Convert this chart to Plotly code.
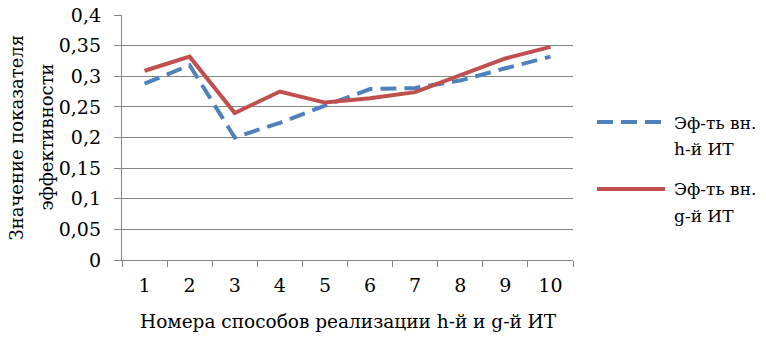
import plotly.graph_objects as go

categories = ["1", "2", "3", "4", "5", "6", "7", "8", "9", "10"]
h_values = [0.288, 0.318, 0.200, 0.224, 0.252, 0.279, 0.281, 0.293, 0.313, 0.332]
g_values = [0.309, 0.332, 0.240, 0.275, 0.257, 0.264, 0.274, 0.302, 0.329, 0.348]
h_name_lines = ["Эф-ть вн.", "h-й ИТ"]
g_name_lines = ["Эф-ть вн.", "g-й ИТ"]
y_tickvals = [0, 0.05, 0.1, 0.15, 0.2, 0.25, 0.3, 0.35, 0.4]
y_ticktext = ["0", "0,05", "0,1", "0,15", "0,2", "0,25", "0,3", "0,35", "0,4"]
x_title = "Номера способов реализации h-й и g-й ИТ"
y_title_lines = ["Значение показателя", "эффективности"]

BLUE = "#4F81BD"
RED = "#C0504D"
GRID = "#868686"
FONT = "DejaVu Serif"
H_DASH = "16px,8px"

fig = go.Figure()
fig.add_trace(go.Scatter(x=categories, y=h_values, mode="lines", name=" ".join(h_name_lines),
                         line=dict(color=BLUE, width=4, dash=H_DASH), showlegend=False))
fig.add_trace(go.Scatter(x=categories, y=g_values, mode="lines", name=" ".join(g_name_lines),
                         line=dict(color=RED, width=4), showlegend=False))

# manual legend (long sample lines as in the reference)
for lines, color, dash, ly, ty in [(h_name_lines, BLUE, H_DASH, 0.5633, [0.559, 0.453]),
                                   (g_name_lines, RED, "solid", 0.290, [0.290, 0.180])]:
    fig.add_shape(type="line", xref="paper", yref="paper", x0=1.0532, x1=1.204, y0=ly, y1=ly,
                  line=dict(color=color, width=4, dash=dash))
    for txt, yy in zip(lines, ty):
        fig.add_annotation(text=txt, xref="paper", yref="paper", x=1.2195, y=yy,
                           xanchor="left", yanchor="middle", align="left", showarrow=False,
                           font=dict(family=FONT, size=17, color="#000000"))

for txt, xx in zip(y_title_lines, [-0.235, -0.1685]):
    fig.add_annotation(text=txt, xref="paper", yref="paper", x=xx, y=0.5,
                       xanchor="center", yanchor="middle", textangle=-90, showarrow=False,
                       font=dict(family=FONT, size=18, color="#000000"))
fig.add_annotation(text=x_title, xref="paper", yref="paper", x=0.502, y=-0.253,
                   xanchor="center", yanchor="middle", showarrow=False,
                   font=dict(family=FONT, size=18.5, color="#000000"))

fig.update_layout(
    width=766, height=338,
    margin=dict(l=122, r=193, t=15, b=78, autoexpand=False),
    plot_bgcolor="white", paper_bgcolor="white",
    font=dict(family=FONT, size=19, color="#000000"),
    showlegend=False,
    xaxis=dict(type="category", tickson="boundaries", ticks="outside", ticklen=6,
               tickcolor=GRID, tickwidth=1.3, showline=True, linecolor=GRID, linewidth=1.3,
               showgrid=False, range=[-0.5, 9.5], tickfont=dict(family=FONT, size=19),
               automargin=False, ticklabelstandoff=8),
    yaxis=dict(range=[0, 0.4], tickvals=y_tickvals, ticktext=y_ticktext, ticks="outside",
               ticklen=7, tickcolor=GRID, tickwidth=1.3, showline=True, linecolor=GRID,
               linewidth=1.3, showgrid=True, gridcolor=GRID, gridwidth=1.3, zeroline=False,
               tickfont=dict(family=FONT, size=19), ticklabelstandoff=9, automargin=False,
               ticklabeloverflow="allow"),
)

fig.write_html("out.html", config={"displayModeBar": False},
               post_script="document.body.style.margin='0px';")
